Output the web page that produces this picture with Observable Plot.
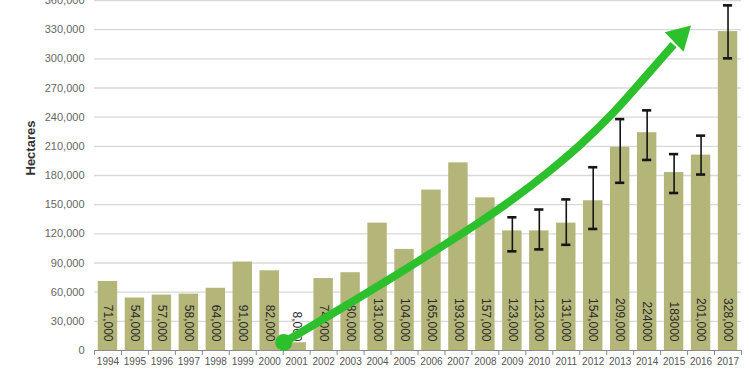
<!DOCTYPE html>
<html>
<head>
<meta charset="utf-8">
<script src="https://cdn.jsdelivr.net/npm/d3@7"></script>
<script src="https://cdn.jsdelivr.net/npm/@observablehq/plot@0.6"></script>
<style>
  html, body { margin: 0; padding: 0; background: #fff; }
</style>
</head>
<body>
<div id="chart"></div>
<script>
const years = [1994,1995,1996,1997,1998,1999,2000,2001,2002,2003,2004,2005,2006,2007,2008,2009,2010,2011,2012,2013,2014,2015,2016,2017];
const values = [71000,54000,57000,58000,64000,91000,82000,8000,74000,80000,131000,104000,165000,193000,157000,123000,123000,131000,154000,209000,224000,183000,201000,328000];
const valueLabels = ["71,000","54,000","57,000","58,000","64,000","91,000","82,000","8,000","74,000","80,000","131,000","104,000","165,000","193,000","157,000","123,000","123,000","131,000","154,000","209,000","224000","183000","201,000","328,000"];

const errYears = [2009,2010,2011,2012,2013,2014,2015,2016,2017];
const errLow  = [102000,104000,108700,125000,172500,196000,162000,181000,300500];
const errHigh = [137000,145000,155400,188500,238000,247000,202000,221000,355000];

const yTicks = [0,30000,60000,90000,120000,150000,180000,210000,240000,270000,300000,330000,360000];

// trend arrow (annotation) in data units: fractional year, hectares
const arrowYears  = [2000.52,2002.27,2004.30,2005.97,2007.82,2009.05,2010.31,2011.53,2012.75,2014.01,2014.98];
const arrowValues = [8200,37000,71000,99800,132700,156300,183100,211900,244800,283900,314700];
const arrowHeadYear = 2015.21;
const arrowHeadValue = 323000;

const bars = years.map((y, i) => ({year: y, value: values[i], label: valueLabels[i]}));
const errs = errYears.map((y, i) => ({year: y, low: errLow[i], high: errHigh[i]}));
const arrow = arrowYears.map((y, i) => ({year: y, value: arrowValues[i]}));
const caps = errs.flatMap(d => [{year: d.year, v: d.low}, {year: d.year, v: d.high}]);
const boundaries = years.map(y => y - 0.5).concat([years[years.length - 1] + 0.5]);

const green = "#2dc02d";
const olive = "#b3b579";

const chart = Plot.plot({
  width: 750,
  height: 375,
  marginTop: 0,
  marginBottom: 25,
  marginLeft: 94,
  marginRight: 9,
  style: {fontFamily: "'Liberation Sans', Arial, sans-serif", background: "#fff", overflow: "visible"},
  x: {domain: [years[0] - 0.5, years[years.length - 1] + 0.5], label: null},
  y: {domain: [0, 360000], label: null},
  marks: [
    Plot.gridY(yTicks.slice(1), {stroke: "#d8d8d8", strokeOpacity: 1, strokeWidth: 1.3}),
    Plot.rectY(bars, {x1: d => d.year - 0.36, x2: d => d.year + 0.36, y: "value", fill: olive}),
    Plot.ruleY([0], {stroke: "#8a8a8a", strokeWidth: 1.2}),
    Plot.axisX(boundaries, {tickSize: 5, tickFormat: () => "", stroke: "#8a8a8a", label: null}),
    Plot.axisX(years, {tickSize: 0, tickPadding: 7, tickFormat: d => String(d), fontSize: 10, fill: "#555", label: null}),
    Plot.axisY(yTicks, {tickSize: 0, tickPadding: 10, tickFormat: d => d3.format(",")(d), fontSize: 11, fill: "#666", label: null}),
    Plot.text(["Hectares"], {frameAnchor: "left", rotate: -90, dx: -64, fontWeight: "bold", fontSize: 13, fill: "#333"}),
    Plot.text(bars, {x: "year", frameAnchor: "bottom", dy: -9, text: "label", rotate: 90, textAnchor: "end", lineAnchor: "middle", fontSize: 12, fill: "#2a2a2a"}),
    Plot.ruleX(errs, {x: "year", y1: "low", y2: "high", stroke: "#151515", strokeWidth: 1.6}),
    Plot.ruleY(caps, {x1: d => d.year - 0.17, x2: d => d.year + 0.17, y: "v", stroke: "#151515", strokeWidth: 2.6}),
    Plot.line(arrow, {x: "year", y: "value", curve: "catmull-rom", stroke: green, strokeWidth: 8, strokeLinecap: "butt"}),
    Plot.dot(arrow.slice(0, 1), {x: "year", y: "value", r: 8.5, fill: green}),
    Plot.dot([{year: arrowHeadYear, value: arrowHeadValue}], {x: "year", y: "value", symbol: "triangle2", r: 13, rotate: 46, fill: green})
  ]
});
document.getElementById("chart").appendChild(chart);
</script>
</body>
</html>
